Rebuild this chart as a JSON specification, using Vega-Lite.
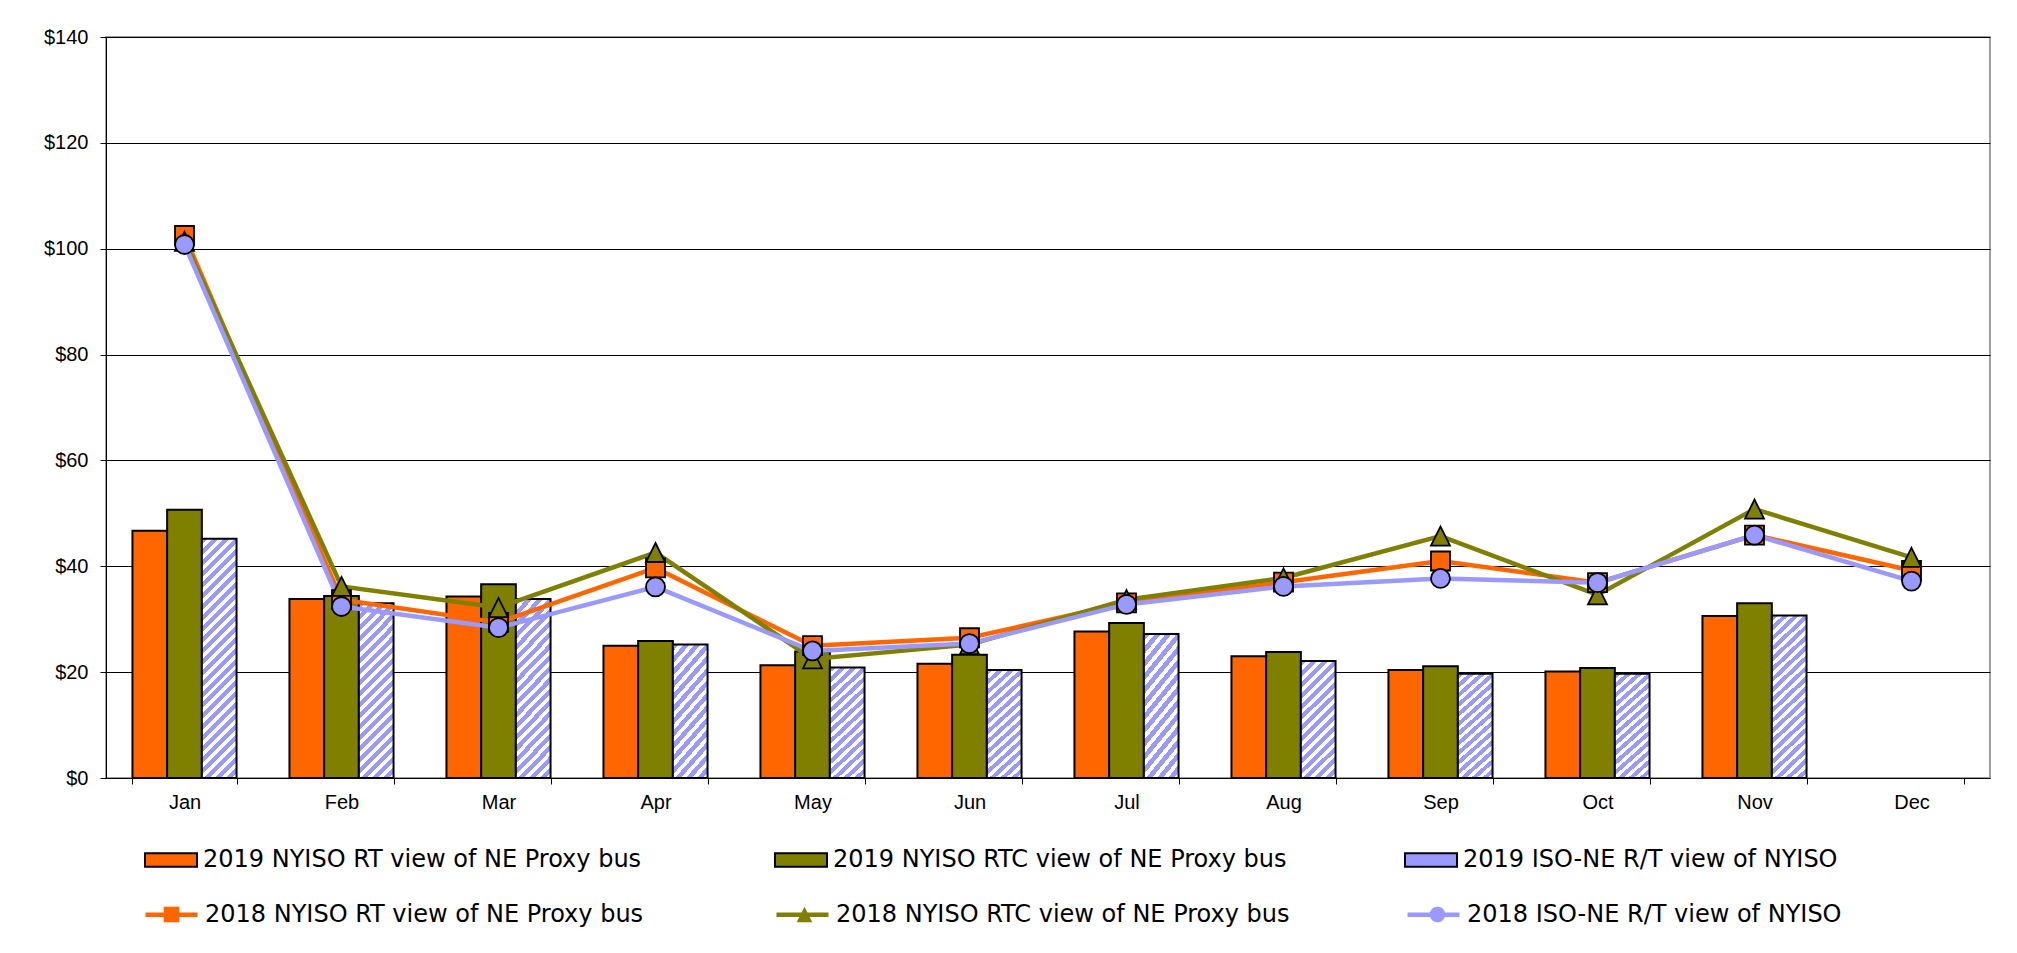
{
  "$schema": "https://vega.github.io/schema/vega-lite/v6.json",
  "width": 1884,
  "height": 741,
  "autosize": {"type": "none"},
  "padding": {"left": 106, "top": 37, "right": 27, "bottom": 175},
  "background": "white",
  "config": {
    "view": {"stroke": "#808080", "strokeWidth": 1.5},
    "axis": {"labelFont": "Liberation Sans", "labelFontSize": 20, "labelColor": "black", "domainColor": "black", "tickColor": "black", "domainWidth": 1, "tickWidth": 1, "tickSize": 6},
    "legend": {"labelFont": "DejaVu Sans", "labelFontSize": 24, "labelColor": "black", "labelLimit": 900, "padding": 0, "labelOffset": 5, "columns": 3, "gridAlign": "all", "direction": "horizontal", "orient": "none", "symbolSize": 2704}
  },
  "datasets": {
    "bars": [
      {"month": "Jan", "series": "2019 NYISO RT view of NE Proxy bus", "value": 46.7},
      {"month": "Feb", "series": "2019 NYISO RT view of NE Proxy bus", "value": 33.8},
      {"month": "Mar", "series": "2019 NYISO RT view of NE Proxy bus", "value": 34.3},
      {"month": "Apr", "series": "2019 NYISO RT view of NE Proxy bus", "value": 25.0},
      {"month": "May", "series": "2019 NYISO RT view of NE Proxy bus", "value": 21.3},
      {"month": "Jun", "series": "2019 NYISO RT view of NE Proxy bus", "value": 21.6},
      {"month": "Jul", "series": "2019 NYISO RT view of NE Proxy bus", "value": 27.7},
      {"month": "Aug", "series": "2019 NYISO RT view of NE Proxy bus", "value": 23.0},
      {"month": "Sep", "series": "2019 NYISO RT view of NE Proxy bus", "value": 20.4},
      {"month": "Oct", "series": "2019 NYISO RT view of NE Proxy bus", "value": 20.1},
      {"month": "Nov", "series": "2019 NYISO RT view of NE Proxy bus", "value": 30.6},
      {"month": "Jan", "series": "2019 NYISO RTC view of NE Proxy bus", "value": 50.7},
      {"month": "Feb", "series": "2019 NYISO RTC view of NE Proxy bus", "value": 34.4},
      {"month": "Mar", "series": "2019 NYISO RTC view of NE Proxy bus", "value": 36.6},
      {"month": "Apr", "series": "2019 NYISO RTC view of NE Proxy bus", "value": 25.9},
      {"month": "May", "series": "2019 NYISO RTC view of NE Proxy bus", "value": 23.9},
      {"month": "Jun", "series": "2019 NYISO RTC view of NE Proxy bus", "value": 23.3},
      {"month": "Jul", "series": "2019 NYISO RTC view of NE Proxy bus", "value": 29.3},
      {"month": "Aug", "series": "2019 NYISO RTC view of NE Proxy bus", "value": 23.8},
      {"month": "Sep", "series": "2019 NYISO RTC view of NE Proxy bus", "value": 21.1},
      {"month": "Oct", "series": "2019 NYISO RTC view of NE Proxy bus", "value": 20.8},
      {"month": "Nov", "series": "2019 NYISO RTC view of NE Proxy bus", "value": 33.0},
      {"month": "Jan", "series": "2019 ISO-NE R/T view of NYISO", "value": 45.2},
      {"month": "Feb", "series": "2019 ISO-NE R/T view of NYISO", "value": 33.0},
      {"month": "Mar", "series": "2019 ISO-NE R/T view of NYISO", "value": 33.8},
      {"month": "Apr", "series": "2019 ISO-NE R/T view of NYISO", "value": 25.2},
      {"month": "May", "series": "2019 ISO-NE R/T view of NYISO", "value": 20.9},
      {"month": "Jun", "series": "2019 ISO-NE R/T view of NYISO", "value": 20.4},
      {"month": "Jul", "series": "2019 ISO-NE R/T view of NYISO", "value": 27.2},
      {"month": "Aug", "series": "2019 ISO-NE R/T view of NYISO", "value": 22.1},
      {"month": "Sep", "series": "2019 ISO-NE R/T view of NYISO", "value": 19.7},
      {"month": "Oct", "series": "2019 ISO-NE R/T view of NYISO", "value": 19.7},
      {"month": "Nov", "series": "2019 ISO-NE R/T view of NYISO", "value": 30.7}
    ],
    "lines": [
      {"month": "Jan", "series": "2018 NYISO RT view of NE Proxy bus", "value": 102.5},
      {"month": "Feb", "series": "2018 NYISO RT view of NE Proxy bus", "value": 33.7},
      {"month": "Mar", "series": "2018 NYISO RT view of NE Proxy bus", "value": 29.4},
      {"month": "Apr", "series": "2018 NYISO RT view of NE Proxy bus", "value": 39.7},
      {"month": "May", "series": "2018 NYISO RT view of NE Proxy bus", "value": 25.0},
      {"month": "Jun", "series": "2018 NYISO RT view of NE Proxy bus", "value": 26.5},
      {"month": "Jul", "series": "2018 NYISO RT view of NE Proxy bus", "value": 33.1},
      {"month": "Aug", "series": "2018 NYISO RT view of NE Proxy bus", "value": 37.0},
      {"month": "Sep", "series": "2018 NYISO RT view of NE Proxy bus", "value": 41.0},
      {"month": "Oct", "series": "2018 NYISO RT view of NE Proxy bus", "value": 36.9},
      {"month": "Nov", "series": "2018 NYISO RT view of NE Proxy bus", "value": 45.9},
      {"month": "Dec", "series": "2018 NYISO RT view of NE Proxy bus", "value": 39.2},
      {"month": "Jan", "series": "2018 NYISO RTC view of NE Proxy bus", "value": 101.4},
      {"month": "Feb", "series": "2018 NYISO RTC view of NE Proxy bus", "value": 36.2},
      {"month": "Mar", "series": "2018 NYISO RTC view of NE Proxy bus", "value": 32.2},
      {"month": "Apr", "series": "2018 NYISO RTC view of NE Proxy bus", "value": 42.6},
      {"month": "May", "series": "2018 NYISO RTC view of NE Proxy bus", "value": 22.5},
      {"month": "Jun", "series": "2018 NYISO RTC view of NE Proxy bus", "value": 25.2},
      {"month": "Jul", "series": "2018 NYISO RTC view of NE Proxy bus", "value": 33.7},
      {"month": "Aug", "series": "2018 NYISO RTC view of NE Proxy bus", "value": 37.8},
      {"month": "Sep", "series": "2018 NYISO RTC view of NE Proxy bus", "value": 45.7},
      {"month": "Oct", "series": "2018 NYISO RTC view of NE Proxy bus", "value": 34.6},
      {"month": "Nov", "series": "2018 NYISO RTC view of NE Proxy bus", "value": 50.8},
      {"month": "Dec", "series": "2018 NYISO RTC view of NE Proxy bus", "value": 41.7},
      {"month": "Jan", "series": "2018 ISO-NE R/T view of NYISO", "value": 100.8},
      {"month": "Feb", "series": "2018 ISO-NE R/T view of NYISO", "value": 32.4},
      {"month": "Mar", "series": "2018 ISO-NE R/T view of NYISO", "value": 28.4},
      {"month": "Apr", "series": "2018 ISO-NE R/T view of NYISO", "value": 36.1},
      {"month": "May", "series": "2018 ISO-NE R/T view of NYISO", "value": 24.0},
      {"month": "Jun", "series": "2018 ISO-NE R/T view of NYISO", "value": 25.4},
      {"month": "Jul", "series": "2018 ISO-NE R/T view of NYISO", "value": 32.8},
      {"month": "Aug", "series": "2018 ISO-NE R/T view of NYISO", "value": 36.2},
      {"month": "Sep", "series": "2018 ISO-NE R/T view of NYISO", "value": 37.7},
      {"month": "Oct", "series": "2018 ISO-NE R/T view of NYISO", "value": 36.9},
      {"month": "Nov", "series": "2018 ISO-NE R/T view of NYISO", "value": 45.9},
      {"month": "Dec", "series": "2018 ISO-NE R/T view of NYISO", "value": 37.2}
    ]
  },
  "layer": [
    {
      "data": {"name": "bars"},
      "mark": {"type": "bar", "stroke": "black", "strokeWidth": 2},
      "encoding": {
        "x": {"field": "month", "type": "nominal", "title": null,
          "scale": {"domain": ["Jan","Feb","Mar","Apr","May","Jun","Jul","Aug","Sep","Oct","Nov","Dec"], "paddingInner": 0.337, "paddingOuter": 0.1685},
          "axis": {"labelAngle": 0, "tickBand": "extent", "labelPadding": 8, "grid": false}},
        "xOffset": {"field": "series", "type": "nominal", "scale": {"domain": ["2019 NYISO RT view of NE Proxy bus", "2019 NYISO RTC view of NE Proxy bus", "2019 ISO-NE R/T view of NYISO"]}},
        "y": {"field": "value", "type": "quantitative", "title": null,
          "scale": {"domain": [0, 140], "nice": false},
          "axis": {"values": [0, 20, 40, 60, 80, 100, 120, 140], "format": "$.0f", "grid": true, "gridColor": "black", "gridWidth": 1, "labelPadding": 12}},
        "color": {
          "condition": [
            {"test": "datum.series === '2019 ISO-NE R/T view of NYISO' && datum.value >= 40",
             "value": {"gradient": "linear", "x1": 0, "y1": 0, "x2": 0.1626, "y2": 1.1214, "stops": [
              {"offset": 0, "color": "#9999FF"}, {"offset": 0.022, "color": "#9999FF"}, {"offset": 0.022, "color": "#FFFFFF"}, {"offset": 0.04, "color": "#FFFFFF"},
              {"offset": 0.04, "color": "#9999FF"}, {"offset": 0.062, "color": "#9999FF"}, {"offset": 0.062, "color": "#FFFFFF"}, {"offset": 0.08, "color": "#FFFFFF"},
              {"offset": 0.08, "color": "#9999FF"}, {"offset": 0.102, "color": "#9999FF"}, {"offset": 0.102, "color": "#FFFFFF"}, {"offset": 0.12, "color": "#FFFFFF"},
              {"offset": 0.12, "color": "#9999FF"}, {"offset": 0.142, "color": "#9999FF"}, {"offset": 0.142, "color": "#FFFFFF"}, {"offset": 0.16, "color": "#FFFFFF"},
              {"offset": 0.16, "color": "#9999FF"}, {"offset": 0.182, "color": "#9999FF"}, {"offset": 0.182, "color": "#FFFFFF"}, {"offset": 0.2, "color": "#FFFFFF"},
              {"offset": 0.2, "color": "#9999FF"}, {"offset": 0.222, "color": "#9999FF"}, {"offset": 0.222, "color": "#FFFFFF"}, {"offset": 0.24, "color": "#FFFFFF"},
              {"offset": 0.24, "color": "#9999FF"}, {"offset": 0.262, "color": "#9999FF"}, {"offset": 0.262, "color": "#FFFFFF"}, {"offset": 0.28, "color": "#FFFFFF"},
              {"offset": 0.28, "color": "#9999FF"}, {"offset": 0.302, "color": "#9999FF"}, {"offset": 0.302, "color": "#FFFFFF"}, {"offset": 0.32, "color": "#FFFFFF"},
              {"offset": 0.32, "color": "#9999FF"}, {"offset": 0.342, "color": "#9999FF"}, {"offset": 0.342, "color": "#FFFFFF"}, {"offset": 0.36, "color": "#FFFFFF"},
              {"offset": 0.36, "color": "#9999FF"}, {"offset": 0.382, "color": "#9999FF"}, {"offset": 0.382, "color": "#FFFFFF"}, {"offset": 0.4, "color": "#FFFFFF"},
              {"offset": 0.4, "color": "#9999FF"}, {"offset": 0.422, "color": "#9999FF"}, {"offset": 0.422, "color": "#FFFFFF"}, {"offset": 0.44, "color": "#FFFFFF"},
              {"offset": 0.44, "color": "#9999FF"}, {"offset": 0.462, "color": "#9999FF"}, {"offset": 0.462, "color": "#FFFFFF"}, {"offset": 0.48, "color": "#FFFFFF"},
              {"offset": 0.48, "color": "#9999FF"}, {"offset": 0.502, "color": "#9999FF"}, {"offset": 0.502, "color": "#FFFFFF"}, {"offset": 0.52, "color": "#FFFFFF"},
              {"offset": 0.52, "color": "#9999FF"}, {"offset": 0.542, "color": "#9999FF"}, {"offset": 0.542, "color": "#FFFFFF"}, {"offset": 0.56, "color": "#FFFFFF"},
              {"offset": 0.56, "color": "#9999FF"}, {"offset": 0.582, "color": "#9999FF"}, {"offset": 0.582, "color": "#FFFFFF"}, {"offset": 0.6, "color": "#FFFFFF"},
              {"offset": 0.6, "color": "#9999FF"}, {"offset": 0.622, "color": "#9999FF"}, {"offset": 0.622, "color": "#FFFFFF"}, {"offset": 0.64, "color": "#FFFFFF"},
              {"offset": 0.64, "color": "#9999FF"}, {"offset": 0.662, "color": "#9999FF"}, {"offset": 0.662, "color": "#FFFFFF"}, {"offset": 0.68, "color": "#FFFFFF"},
              {"offset": 0.68, "color": "#9999FF"}, {"offset": 0.702, "color": "#9999FF"}, {"offset": 0.702, "color": "#FFFFFF"}, {"offset": 0.72, "color": "#FFFFFF"},
              {"offset": 0.72, "color": "#9999FF"}, {"offset": 0.742, "color": "#9999FF"}, {"offset": 0.742, "color": "#FFFFFF"}, {"offset": 0.76, "color": "#FFFFFF"},
              {"offset": 0.76, "color": "#9999FF"}, {"offset": 0.782, "color": "#9999FF"}, {"offset": 0.782, "color": "#FFFFFF"}, {"offset": 0.8, "color": "#FFFFFF"},
              {"offset": 0.8, "color": "#9999FF"}, {"offset": 0.822, "color": "#9999FF"}, {"offset": 0.822, "color": "#FFFFFF"}, {"offset": 0.84, "color": "#FFFFFF"},
              {"offset": 0.84, "color": "#9999FF"}, {"offset": 0.862, "color": "#9999FF"}, {"offset": 0.862, "color": "#FFFFFF"}, {"offset": 0.88, "color": "#FFFFFF"},
              {"offset": 0.88, "color": "#9999FF"}, {"offset": 0.902, "color": "#9999FF"}, {"offset": 0.902, "color": "#FFFFFF"}, {"offset": 0.92, "color": "#FFFFFF"},
              {"offset": 0.92, "color": "#9999FF"}, {"offset": 0.942, "color": "#9999FF"}, {"offset": 0.942, "color": "#FFFFFF"}, {"offset": 0.96, "color": "#FFFFFF"},
              {"offset": 0.96, "color": "#9999FF"}, {"offset": 0.982, "color": "#9999FF"}, {"offset": 0.982, "color": "#FFFFFF"}, {"offset": 1, "color": "#FFFFFF"}
             ]}},
            {"test": "datum.series === '2019 ISO-NE R/T view of NYISO' && datum.value >= 29",
             "value": {"gradient": "linear", "x1": 0, "y1": 0, "x2": 0.2329, "y2": 1.1547, "stops": [
              {"offset": 0, "color": "#9999FF"}, {"offset": 0.0289, "color": "#9999FF"}, {"offset": 0.0289, "color": "#FFFFFF"}, {"offset": 0.0526, "color": "#FFFFFF"},
              {"offset": 0.0526, "color": "#9999FF"}, {"offset": 0.0816, "color": "#9999FF"}, {"offset": 0.0816, "color": "#FFFFFF"}, {"offset": 0.1053, "color": "#FFFFFF"},
              {"offset": 0.1053, "color": "#9999FF"}, {"offset": 0.1342, "color": "#9999FF"}, {"offset": 0.1342, "color": "#FFFFFF"}, {"offset": 0.1579, "color": "#FFFFFF"},
              {"offset": 0.1579, "color": "#9999FF"}, {"offset": 0.1868, "color": "#9999FF"}, {"offset": 0.1868, "color": "#FFFFFF"}, {"offset": 0.2105, "color": "#FFFFFF"},
              {"offset": 0.2105, "color": "#9999FF"}, {"offset": 0.2395, "color": "#9999FF"}, {"offset": 0.2395, "color": "#FFFFFF"}, {"offset": 0.2632, "color": "#FFFFFF"},
              {"offset": 0.2632, "color": "#9999FF"}, {"offset": 0.2921, "color": "#9999FF"}, {"offset": 0.2921, "color": "#FFFFFF"}, {"offset": 0.3158, "color": "#FFFFFF"},
              {"offset": 0.3158, "color": "#9999FF"}, {"offset": 0.3447, "color": "#9999FF"}, {"offset": 0.3447, "color": "#FFFFFF"}, {"offset": 0.3684, "color": "#FFFFFF"},
              {"offset": 0.3684, "color": "#9999FF"}, {"offset": 0.3974, "color": "#9999FF"}, {"offset": 0.3974, "color": "#FFFFFF"}, {"offset": 0.4211, "color": "#FFFFFF"},
              {"offset": 0.4211, "color": "#9999FF"}, {"offset": 0.45, "color": "#9999FF"}, {"offset": 0.45, "color": "#FFFFFF"}, {"offset": 0.4737, "color": "#FFFFFF"},
              {"offset": 0.4737, "color": "#9999FF"}, {"offset": 0.5026, "color": "#9999FF"}, {"offset": 0.5026, "color": "#FFFFFF"}, {"offset": 0.5263, "color": "#FFFFFF"},
              {"offset": 0.5263, "color": "#9999FF"}, {"offset": 0.5553, "color": "#9999FF"}, {"offset": 0.5553, "color": "#FFFFFF"}, {"offset": 0.5789, "color": "#FFFFFF"},
              {"offset": 0.5789, "color": "#9999FF"}, {"offset": 0.6079, "color": "#9999FF"}, {"offset": 0.6079, "color": "#FFFFFF"}, {"offset": 0.6316, "color": "#FFFFFF"},
              {"offset": 0.6316, "color": "#9999FF"}, {"offset": 0.6605, "color": "#9999FF"}, {"offset": 0.6605, "color": "#FFFFFF"}, {"offset": 0.6842, "color": "#FFFFFF"},
              {"offset": 0.6842, "color": "#9999FF"}, {"offset": 0.7132, "color": "#9999FF"}, {"offset": 0.7132, "color": "#FFFFFF"}, {"offset": 0.7368, "color": "#FFFFFF"},
              {"offset": 0.7368, "color": "#9999FF"}, {"offset": 0.7658, "color": "#9999FF"}, {"offset": 0.7658, "color": "#FFFFFF"}, {"offset": 0.7895, "color": "#FFFFFF"},
              {"offset": 0.7895, "color": "#9999FF"}, {"offset": 0.8184, "color": "#9999FF"}, {"offset": 0.8184, "color": "#FFFFFF"}, {"offset": 0.8421, "color": "#FFFFFF"},
              {"offset": 0.8421, "color": "#9999FF"}, {"offset": 0.8711, "color": "#9999FF"}, {"offset": 0.8711, "color": "#FFFFFF"}, {"offset": 0.8947, "color": "#FFFFFF"},
              {"offset": 0.8947, "color": "#9999FF"}, {"offset": 0.9237, "color": "#9999FF"}, {"offset": 0.9237, "color": "#FFFFFF"}, {"offset": 0.9474, "color": "#FFFFFF"},
              {"offset": 0.9474, "color": "#9999FF"}, {"offset": 0.9763, "color": "#9999FF"}, {"offset": 0.9763, "color": "#FFFFFF"}, {"offset": 1, "color": "#FFFFFF"}
             ]}},
            {"test": "datum.series === '2019 ISO-NE R/T view of NYISO'",
             "value": {"gradient": "linear", "x1": 0, "y1": 0, "x2": 0.3502, "y2": 1.1911, "stops": [
              {"offset": 0, "color": "#9999FF"}, {"offset": 0.0393, "color": "#9999FF"}, {"offset": 0.0393, "color": "#FFFFFF"}, {"offset": 0.0714, "color": "#FFFFFF"},
              {"offset": 0.0714, "color": "#9999FF"}, {"offset": 0.1107, "color": "#9999FF"}, {"offset": 0.1107, "color": "#FFFFFF"}, {"offset": 0.1429, "color": "#FFFFFF"},
              {"offset": 0.1429, "color": "#9999FF"}, {"offset": 0.1821, "color": "#9999FF"}, {"offset": 0.1821, "color": "#FFFFFF"}, {"offset": 0.2143, "color": "#FFFFFF"},
              {"offset": 0.2143, "color": "#9999FF"}, {"offset": 0.2536, "color": "#9999FF"}, {"offset": 0.2536, "color": "#FFFFFF"}, {"offset": 0.2857, "color": "#FFFFFF"},
              {"offset": 0.2857, "color": "#9999FF"}, {"offset": 0.325, "color": "#9999FF"}, {"offset": 0.325, "color": "#FFFFFF"}, {"offset": 0.3571, "color": "#FFFFFF"},
              {"offset": 0.3571, "color": "#9999FF"}, {"offset": 0.3964, "color": "#9999FF"}, {"offset": 0.3964, "color": "#FFFFFF"}, {"offset": 0.4286, "color": "#FFFFFF"},
              {"offset": 0.4286, "color": "#9999FF"}, {"offset": 0.4679, "color": "#9999FF"}, {"offset": 0.4679, "color": "#FFFFFF"}, {"offset": 0.5, "color": "#FFFFFF"},
              {"offset": 0.5, "color": "#9999FF"}, {"offset": 0.5393, "color": "#9999FF"}, {"offset": 0.5393, "color": "#FFFFFF"}, {"offset": 0.5714, "color": "#FFFFFF"},
              {"offset": 0.5714, "color": "#9999FF"}, {"offset": 0.6107, "color": "#9999FF"}, {"offset": 0.6107, "color": "#FFFFFF"}, {"offset": 0.6429, "color": "#FFFFFF"},
              {"offset": 0.6429, "color": "#9999FF"}, {"offset": 0.6821, "color": "#9999FF"}, {"offset": 0.6821, "color": "#FFFFFF"}, {"offset": 0.7143, "color": "#FFFFFF"},
              {"offset": 0.7143, "color": "#9999FF"}, {"offset": 0.7536, "color": "#9999FF"}, {"offset": 0.7536, "color": "#FFFFFF"}, {"offset": 0.7857, "color": "#FFFFFF"},
              {"offset": 0.7857, "color": "#9999FF"}, {"offset": 0.825, "color": "#9999FF"}, {"offset": 0.825, "color": "#FFFFFF"}, {"offset": 0.8571, "color": "#FFFFFF"},
              {"offset": 0.8571, "color": "#9999FF"}, {"offset": 0.8964, "color": "#9999FF"}, {"offset": 0.8964, "color": "#FFFFFF"}, {"offset": 0.9286, "color": "#FFFFFF"},
              {"offset": 0.9286, "color": "#9999FF"}, {"offset": 0.9679, "color": "#9999FF"}, {"offset": 0.9679, "color": "#FFFFFF"}, {"offset": 1, "color": "#FFFFFF"}
             ]}}
          ],
          "field": "series", "type": "nominal", "title": null,
          "scale": {"domain": ["2019 NYISO RT view of NE Proxy bus", "2019 NYISO RTC view of NE Proxy bus", "2019 ISO-NE R/T view of NYISO"], "range": ["#FF6600", "#808000", "#9999FF"]},
          "legend": {
            "legendX": 38, "legendY": 796, "columnPadding": 114,
            "symbolType": "M-1,-0.26H1V0.26H-1Z",
            "symbolStrokeColor": "black", "symbolStrokeWidth": 2,
            "encode": {"symbols": {"update": {
              "fill": [
                {"test": "datum.value === '2019 ISO-NE R/T view of NYISO'", "value": {"gradient": "linear", "x1": 0, "y1": 0, "x2": 1.18, "y2": 0.307, "stops": [
                  {"offset": 0, "color": "#9999FF"}, {"offset": 0.11, "color": "#9999FF"}, {"offset": 0.11, "color": "#FFFFFF"}, {"offset": 0.2, "color": "#FFFFFF"},
                  {"offset": 0.2, "color": "#9999FF"}, {"offset": 0.31, "color": "#9999FF"}, {"offset": 0.31, "color": "#FFFFFF"}, {"offset": 0.4, "color": "#FFFFFF"},
                  {"offset": 0.4, "color": "#9999FF"}, {"offset": 0.51, "color": "#9999FF"}, {"offset": 0.51, "color": "#FFFFFF"}, {"offset": 0.6, "color": "#FFFFFF"},
                  {"offset": 0.6, "color": "#9999FF"}, {"offset": 0.71, "color": "#9999FF"}, {"offset": 0.71, "color": "#FFFFFF"}, {"offset": 0.8, "color": "#FFFFFF"},
                  {"offset": 0.8, "color": "#9999FF"}, {"offset": 0.91, "color": "#9999FF"}, {"offset": 0.91, "color": "#FFFFFF"}, {"offset": 1, "color": "#FFFFFF"}
                ]}},
                {"scale": "color", "field": "value"}
              ],
              "stroke": {"value": "black"},
              "strokeWidth": {"value": 2}
            }}}
          }
        }
      }
    },
    {
      "data": {"name": "lines"},
      "mark": {"type": "line", "strokeWidth": 4.5},
      "encoding": {
        "x": {"field": "month", "type": "nominal", "scale": {"domain": ["Jan","Feb","Mar","Apr","May","Jun","Jul","Aug","Sep","Oct","Nov","Dec"]}},
        "y": {"field": "value", "type": "quantitative", "scale": {"domain": [0, 140], "nice": false}},
        "stroke": {"field": "series", "type": "nominal", "title": null,
          "scale": {"domain": ["2018 NYISO RT view of NE Proxy bus", "2018 NYISO RTC view of NE Proxy bus", "2018 ISO-NE R/T view of NYISO"], "range": ["#FF6600", "#808000", "#9999FF"]},
          "legend": {"legendX": 37, "legendY": 849, "columnPadding": 108, "symbolType": "stroke", "symbolStrokeWidth": 4.5, "zindex": 1}}
      }
    },
    {
      "data": {"name": "lines"},
      "mark": {"type": "point", "filled": true, "opacity": 1, "size": 4011, "stroke": "black", "strokeWidth": 1.8},
      "encoding": {
        "x": {"field": "month", "type": "nominal", "scale": {"domain": ["Jan","Feb","Mar","Apr","May","Jun","Jul","Aug","Sep","Oct","Nov","Dec"]}},
        "y": {"field": "value", "type": "quantitative", "scale": {"domain": [0, 140], "nice": false}},
        "fill": {"field": "series", "type": "nominal", "title": null,
          "scale": {"domain": ["2018 ISO-NE R/T view of NYISO", "2018 NYISO RT view of NE Proxy bus", "2018 NYISO RTC view of NE Proxy bus"], "range": ["#9999FF", "#FF6600", "#808000"]},
          "legend": {"legendX": 37, "legendY": 850.5, "columnPadding": 572, "labelExpr": "' '",
            "values": ["2018 NYISO RT view of NE Proxy bus", "2018 NYISO RTC view of NE Proxy bus", "2018 ISO-NE R/T view of NYISO"],
            "symbolSize": 2704, "symbolOffset": 1.5, "symbolStrokeColor": "black", "symbolStrokeWidth": 1.8, "zindex": 2,
            "encode": {"symbols": {"update": {"stroke": {"value": "black"}, "strokeWidth": {"value": 1.8}, "size": {"value": 2704}, "opacity": {"value": 1}}}}}},
        "shape": {"field": "series", "type": "nominal", "title": null,
          "scale": {"domain": ["2018 ISO-NE R/T view of NYISO", "2018 NYISO RT view of NE Proxy bus", "2018 NYISO RTC view of NE Proxy bus"],
            "range": ["M-0.3,0A0.3,0.3,0,1,0,0.3,0A0.3,0.3,0,1,0,-0.3,0Z", "M-0.3,-0.3H0.3V0.3H-0.3Z", "M0,-0.3L0.3,0.3L-0.3,0.3Z"]},
          "legend": {"legendX": 37, "legendY": 850.5, "columnPadding": 572, "labelExpr": "' '",
            "values": ["2018 NYISO RT view of NE Proxy bus", "2018 NYISO RTC view of NE Proxy bus", "2018 ISO-NE R/T view of NYISO"],
            "symbolSize": 2704, "symbolOffset": 1.5, "symbolStrokeColor": "black", "symbolStrokeWidth": 1.8, "zindex": 2,
            "encode": {"symbols": {"update": {"stroke": {"value": "black"}, "strokeWidth": {"value": 1.8}, "size": {"value": 2704}, "opacity": {"value": 1}}}}}}
      }
    }
  ]
}
